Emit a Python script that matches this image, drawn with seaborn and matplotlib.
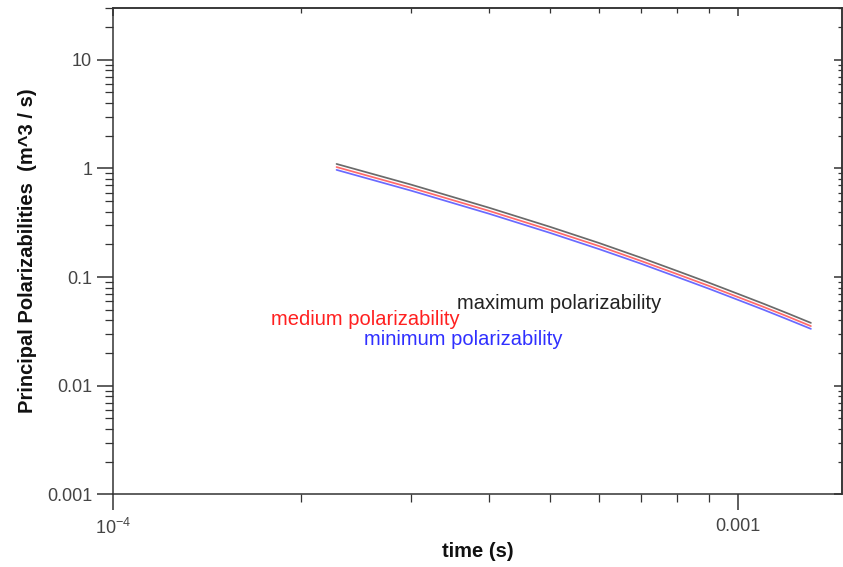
import matplotlib
matplotlib.use("Agg")
import matplotlib.pyplot as plt
import seaborn as sns
import pandas as pd
import numpy as np
from matplotlib.ticker import FixedLocator, FixedFormatter, LogLocator, NullFormatter

time_s = [2.28e-4, 3e-4, 4e-4, 5e-4, 6e-4, 7e-4, 8e-4, 9e-4, 1e-3, 1.1e-3, 1.2e-3, 1.31e-3]
max_pol = [1.10, 0.710, 0.435, 0.291, 0.206, 0.151, 0.114, 0.0887, 0.0703, 0.0569, 0.0466, 0.0379]
med_pol = [1.03, 0.664, 0.407, 0.272, 0.193, 0.141, 0.1066, 0.0829, 0.0657, 0.0532, 0.0436, 0.0354]
min_pol = [0.97, 0.625, 0.383, 0.256, 0.181, 0.133, 0.1003, 0.0781, 0.0619, 0.0501, 0.0410, 0.0334]

series_names = ["maximum polarizability", "medium polarizability", "minimum polarizability"]
line_colors = ["#6a6a6a", "#ff6a6a", "#6a6aff"]
text_colors = ["#222222", "#ff2020", "#3030ff"]

x_tick_vals = [1e-4, 1e-3]
x_tick_labels = [r"$\mathregular{10^{-4}}$", "0.001"]
y_tick_vals = [0.001, 0.01, 0.1, 1, 10]
y_tick_labels = ["0.001", "0.01", "0.1", "1", "10"]

df = pd.DataFrame({
    "time": time_s * 3,
    "value": max_pol + med_pol + min_pol,
    "series": [series_names[0]] * len(time_s) + [series_names[1]] * len(time_s) + [series_names[2]] * len(time_s),
})

sns.set_style("white")
plt.rcParams["font.family"] = ["Liberation Sans", "DejaVu Sans"]
plt.rcParams["mathtext.fontset"] = "custom"
plt.rcParams["mathtext.rm"] = "Liberation Sans"

fig = plt.figure(figsize=(8.43, 5.67), dpi=100)
ax = fig.add_axes([0.134, 0.128, 0.865, 0.858])

sns.lineplot(data=df, x="time", y="value", hue="series", palette=dict(zip(series_names, line_colors)),
             hue_order=series_names, ax=ax, linewidth=1.25, legend=False)

ax.set_xscale("log")
ax.set_yscale("log")
ax.set_xlim(1e-4, 1.47e-3)
ax.set_ylim(0.001, 30)

ax.xaxis.set_major_locator(FixedLocator(x_tick_vals))
ax.xaxis.set_major_formatter(FixedFormatter(x_tick_labels))
ax.xaxis.set_minor_locator(LogLocator(base=10, subs=np.arange(2, 10)))
ax.xaxis.set_minor_formatter(NullFormatter())
ax.yaxis.set_major_locator(FixedLocator(y_tick_vals))
ax.yaxis.set_major_formatter(FixedFormatter(y_tick_labels))
ax.yaxis.set_minor_locator(LogLocator(base=10, subs=np.arange(2, 10)))
ax.yaxis.set_minor_formatter(NullFormatter())

spine_col = "#333333"
for s in ax.spines.values():
    s.set_color(spine_col)
    s.set_linewidth(1.1)
    s.set_visible(True)

ax.tick_params(which="major", direction="out", length=11.5, width=1.1, color=spine_col,
               labelsize=13, labelcolor="#444444", pad=3.5, bottom=True, left=True, top=False, right=False)
ax.tick_params(axis="x", which="major", pad=5.5)
ax.tick_params(which="minor", direction="out", length=5.5, width=0.9, color=spine_col,
               bottom=True, left=True, top=False, right=False)

# Mirror ticks inside on top and right
axr = ax.secondary_yaxis("right")
axr.yaxis.set_major_locator(FixedLocator(y_tick_vals))
axr.yaxis.set_minor_locator(LogLocator(base=10, subs=np.arange(2, 10)))
axr.yaxis.set_major_formatter(NullFormatter())
axr.yaxis.set_minor_formatter(NullFormatter())
axr.tick_params(which="major", direction="in", length=5.8, width=1.1, color=spine_col)
axr.tick_params(which="minor", direction="in", length=3.0, width=0.9, color=spine_col)
axr.spines["right"].set_color(spine_col)
axr.spines["right"].set_linewidth(1.1)

axt = ax.secondary_xaxis("top")
axt.xaxis.set_major_locator(FixedLocator(x_tick_vals))
axt.xaxis.set_minor_locator(LogLocator(base=10, subs=np.arange(2, 10)))
axt.xaxis.set_major_formatter(NullFormatter())
axt.xaxis.set_minor_formatter(NullFormatter())
axt.tick_params(which="major", direction="in", length=5.8, width=1.1, color=spine_col)
axt.tick_params(which="minor", direction="in", length=3.6, width=0.9, color=spine_col)
axt.spines["top"].set_color(spine_col)
axt.spines["top"].set_linewidth(1.1)

ax.set_xlabel("time (s)", fontsize=14.5, fontweight="bold", color="#111111", labelpad=3)
ax.set_ylabel("Principal Polarizabilities  (m^3 / s)", fontsize=14.5, fontweight="bold", color="#111111", labelpad=7)

label_pos = [(3.55e-4, 0.0575), (1.79e-4, 0.0405), (2.52e-4, 0.0265)]
for name, col, (lx, ly) in zip(series_names, text_colors, label_pos):
    ax.text(lx, ly, name, color=col, fontsize=14.5, va="center", ha="left")

fig.savefig("out.png", dpi=100)
